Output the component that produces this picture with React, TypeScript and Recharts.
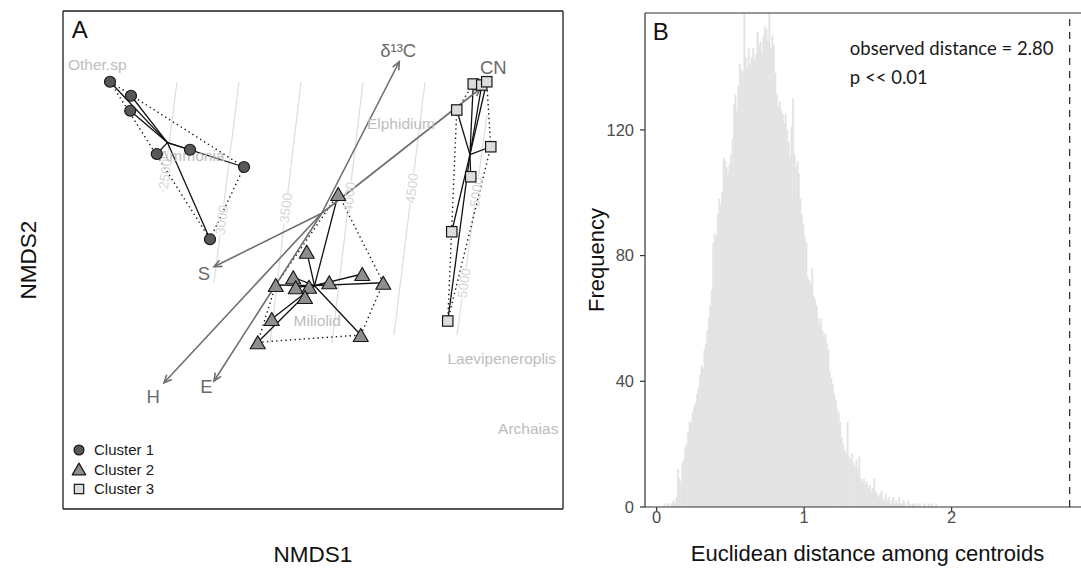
import React from "react";
import {
  ScatterChart,
  Scatter,
  ComposedChart,
  Bar,
  XAxis,
  YAxis,
  ReferenceLine,
  ReferenceDot,
  Legend,
} from "recharts";

const SANS = "'Liberation Sans', Arial, Helvetica, sans-serif";

type Pt = { x: number; y: number };

// ---------- Panel A: NMDS ordination ----------

// site scores per cluster
const cluster1: Pt[] = [
  { x: -0.847, y: 0.526 },
  { x: -0.763, y: 0.47 },
  { x: -0.766, y: 0.41 },
  { x: -0.66, y: 0.237 },
  { x: -0.527, y: 0.254 },
  { x: -0.311, y: 0.185 },
  { x: -0.447, y: -0.104 },
];
const cluster2: Pt[] = [
  { x: 0.066, y: 0.077 },
  { x: -0.06, y: -0.154 },
  { x: -0.114, y: -0.256 },
  { x: -0.184, y: -0.287 },
  { x: -0.104, y: -0.296 },
  { x: -0.051, y: -0.294 },
  { x: -0.067, y: -0.335 },
  { x: 0.03, y: -0.276 },
  { x: 0.162, y: -0.243 },
  { x: 0.246, y: -0.278 },
  { x: -0.2, y: -0.423 },
  { x: -0.256, y: -0.516 },
  { x: 0.156, y: -0.487 },
];
const cluster3: Pt[] = [
  { x: 0.606, y: 0.517 },
  { x: 0.64, y: 0.513 },
  { x: 0.66, y: 0.526 },
  { x: 0.54, y: 0.413 },
  { x: 0.676, y: 0.266 },
  { x: 0.596, y: 0.146 },
  { x: 0.52, y: -0.074 },
  { x: 0.504, y: -0.431 },
];

const clusterNames = ["Cluster 1", "Cluster 2", "Cluster 3"];
const clusterFills = ["#585858", "#8E8E8E", "#DCDCDC"];
const clusterShapes = ["circle", "triangle", "square"];

// fitted environmental vectors
const envNames = ["δ¹³C", "CN", "S", "H", "E"];
const envX = [0.31, 0.635, -0.431, -0.631, -0.431];
const envY = [0.606, 0.499, -0.214, -0.678, -0.671];
const envLabelX = [0.306, 0.686, -0.471, -0.674, -0.461];
const envLabelY = [0.653, 0.584, -0.24, -0.734, -0.691];

// species scores
const speciesNames = ["Other.sp", "Ammonia", "Elphidium", "Miliolid", "Laevipeneroplis", "Archaias"];
const speciesX = [-0.898, -0.52, 0.317, -0.018, 0.72, 0.826];
const speciesY = [0.597, 0.233, 0.36, -0.427, -0.582, -0.86];

// depth surface isolines
const contourLevels = [2500, 3000, 3500, 4000, 4500, 5000];
const contourTopX = [-0.579, -0.331, -0.083, 0.165, 0.413, 0.661];
const contourTopY = [0.525, 0.525, 0.525, 0.525, 0.525, 0.393];
const contourBottomX = [-0.635, -0.431, -0.207, 0.041, 0.289, 0.541];
const contourBottomY = [0.085, -0.279, -0.519, -0.519, -0.487, -0.487];
const contourLabelX = [-0.625, -0.4, -0.143, 0.111, 0.361, 0.619, 0.57];
const contourLabelY = [0.157, -0.027, 0.021, 0.065, 0.1, 0.085, -0.279];
const contourLabelLine = [0, 1, 2, 3, 4, 5, 5];

// ---------- Panel B: permutation histogram ----------

const binWidth = 0.01;
const counts = [
  0, 0, 0, 0, 0, 1, 0, 1, 1, 0,
  1, 2, 1, 3, 12, 9, 8, 14, 15, 19,
  20, 24, 27, 27, 30, 32, 33, 36, 38, 42,
  45, 44, 50, 52, 56, 60, 64, 69, 84, 87,
  86, 93, 98, 96, 100, 111, 110, 108, 106, 109,
  112, 117, 128, 131, 126, 134, 141, 139, 138, 157,
  143, 140, 146, 141, 143, 146, 142, 144, 151, 147,
  148, 144, 150, 153, 152, 148, 157, 146, 150, 147,
  138, 131, 127, 129, 126, 125, 122, 125, 120, 116,
  111, 121, 130, 112, 108, 110, 106, 98, 93, 90,
  86, 84, 73, 72, 71, 76, 67, 66, 64, 60,
  58, 60, 56, 54, 55, 52, 50, 43, 41, 39,
  36, 34, 31, 30, 27, 22, 20, 18, 17, 27,
  16, 15, 17, 14, 13, 15, 12, 16, 9, 8,
  9, 7, 8, 6, 7, 5, 6, 9, 5, 4,
  3, 4, 5, 3, 2, 4, 2, 3, 1, 2,
  3, 1, 2, 1, 3, 1, 1, 2, 1, 0,
  2, 1, 0, 1, 1, 0, 1, 0, 1, 0,
  0, 1, 0, 0, 1, 0, 1, 0, 0, 1,
];
const observedDistance = 2.8;
const pValueText = "p << 0.01";
const distTicks = [0, 1, 2];
const freqTicks = [0, 40, 80, 120];

const histData = counts.map((c, i) => ({ x: +((i + 0.5) * binWidth).toFixed(3), count: c }));

// ---------- helpers ----------

function centroid(pts: Pt[]): Pt {
  const n = pts.length;
  return {
    x: pts.reduce((s, p) => s + p.x, 0) / n,
    y: pts.reduce((s, p) => s + p.y, 0) / n,
  };
}

function convexHull(pts: Pt[]): Pt[] {
  const p = [...pts].sort((a, b) => a.x - b.x || a.y - b.y);
  const cross = (o: Pt, a: Pt, b: Pt) => (a.x - o.x) * (b.y - o.y) - (a.y - o.y) * (b.x - o.x);
  const lower: Pt[] = [];
  for (const q of p) {
    while (lower.length >= 2 && cross(lower[lower.length - 2], lower[lower.length - 1], q) <= 0) lower.pop();
    lower.push(q);
  }
  const upper: Pt[] = [];
  for (const q of [...p].reverse()) {
    while (upper.length >= 2 && cross(upper[upper.length - 2], upper[upper.length - 1], q) <= 0) upper.pop();
    upper.push(q);
  }
  upper.pop();
  lower.pop();
  return lower.concat(upper);
}

const clusters = [cluster1, cluster2, cluster3];

const spiderSegments = clusters.flatMap((pts) => {
  const c = centroid(pts);
  return pts.map((p) => [c, p]);
});

const hullSegments = clusters.flatMap((pts) => {
  const h = convexHull(pts);
  return h.map((p, i) => [p, h[(i + 1) % h.length]]);
});

// split each isoline around its labels
const GAP = 0.062;
const contours = contourLevels.map((level, k) => {
  const bx = contourBottomX[k];
  const by = contourBottomY[k];
  const dx = contourTopX[k] - bx;
  const dy = contourTopY[k] - by;
  const len2 = dx * dx + dy * dy;
  const len = Math.sqrt(len2);
  const angle = (Math.atan2(-dy, dx) * 180) / Math.PI;
  const ts = contourLabelX
    .map((lx, j) => ({ lx, ly: contourLabelY[j], line: contourLabelLine[j] }))
    .filter((l) => l.line === k)
    .map((l) => ((l.lx - bx) * dx + (l.ly - by) * dy) / len2)
    .sort((a, b) => a - b);
  const segs: number[][] = [];
  let t0 = 0;
  ts.forEach((t) => {
    const t1 = t - GAP / len;
    if (t1 > t0) segs.push([t0, t1]);
    t0 = t + GAP / len;
  });
  if (t0 < 1) segs.push([t0, 1]);
  return {
    segs: segs.map(([a, b]) => [
      { x: bx + dx * a, y: by + dy * a },
      { x: bx + dx * b, y: by + dy * b },
    ]),
    labels: ts.map((t) => ({ x: bx + dx * t, y: by + dy * t, text: String(level), angle })),
  };
});
const contourLabels = contours.flatMap((c) => c.labels);

const speciesData = speciesNames.map((text, i) => ({ x: speciesX[i], y: speciesY[i], text }));
const envLabelData = envNames.map((text, i) => ({ x: envLabelX[i], y: envLabelY[i], text }));

// ---------- shapes ----------

function Marker({ kind, cx, cy, fill, s = 1 }: { kind: string; cx: number; cy: number; fill: string; s?: number }) {
  const stroke = "#161616";
  if (kind === "circle") {
    return <circle cx={cx} cy={cy} r={5.5 * s} fill={fill} stroke={stroke} strokeWidth={1.2} />;
  }
  if (kind === "triangle") {
    const w = 7.5 * s;
    const h = 6.5 * s;
    return (
      <path
        d={`M${cx},${cy - h}L${cx + w},${cy + h}L${cx - w},${cy + h}Z`}
        fill={fill}
        stroke={stroke}
        strokeWidth={1.2}
        strokeLinejoin="round"
      />
    );
  }
  const a = 5.2 * s;
  return <rect x={cx - a} y={cy - a} width={2 * a} height={2 * a} fill={fill} stroke={stroke} strokeWidth={1.2} />;
}

const arrowShape = (p: any) => {
  const { x1, y1, x2, y2 } = p;
  const a = Math.atan2(y2 - y1, x2 - x1);
  const L = 8.5;
  const w = 0.42;
  return (
    <g>
      <line x1={x1} y1={y1} x2={x2} y2={y2} stroke="#6E6E6E" strokeWidth={1.6} />
      <path
        d={`M${x2 - L * Math.cos(a - w)},${y2 - L * Math.sin(a - w)}L${x2},${y2}L${x2 - L * Math.cos(a + w)},${y2 - L * Math.sin(a + w)}`}
        fill="none"
        stroke="#6E6E6E"
        strokeWidth={1.6}
      />
    </g>
  );
};

const textShape = (size: number, color: string) => (p: any) => (
  <text
    x={p.cx}
    y={p.cy}
    textAnchor="middle"
    dominantBaseline="central"
    fontFamily={SANS}
    fontSize={size}
    fill={color}
  >
    {p.payload.text}
  </text>
);

const contourTextShape = (p: any) => (
  <text
    x={p.cx}
    y={p.cy}
    transform={`rotate(${p.payload.angle} ${p.cx} ${p.cy})`}
    textAnchor="middle"
    dominantBaseline="central"
    fontFamily={SANS}
    fontSize={13.5}
    fill="#D6D6D6"
  >
    {p.payload.text}
  </text>
);

function ClusterLegend() {
  return (
    <div style={{ fontFamily: SANS, fontSize: 15, color: "#1a1a1a" }}>
      {clusterNames.map((name, i) => (
        <div key={name} style={{ display: "flex", alignItems: "center", height: 19.6 }}>
          <svg width={14} height={14} style={{ overflow: "visible" }}>
            <Marker kind={clusterShapes[i]} cx={7} cy={7} fill={clusterFills[i]} s={0.9} />
          </svg>
          <span style={{ marginLeft: 8, lineHeight: "19.6px" }}>{name}</span>
        </div>
      ))}
    </div>
  );
}

const boxLine = { stroke: "#1e1e1e", strokeWidth: 1.3 };

function NmdsPanel() {
  const xDom: [number, number] = [-1.035, 0.965];
  const yDom: [number, number] = [-1.183, 0.809];
  return (
    <ScatterChart width={580} height={568} margin={{ top: 10, left: 62, right: 16, bottom: 58 }}>
      <XAxis
        dataKey="x"
        type="number"
        domain={xDom}
        allowDataOverflow
        height={1}
        tick={false}
        tickLine={false}
        axisLine={boxLine}
        label={(p: any) => (
          <text
            x={p.viewBox.x + p.viewBox.width / 2}
            y={509 + 52.5}
            textAnchor="middle"
            fontFamily={SANS}
            fontSize={22.5}
            fill="#111"
          >
            NMDS1
          </text>
        )}
      />
      <XAxis
        xAxisId="top"
        orientation="top"
        type="number"
        domain={xDom}
        allowDataOverflow
        height={1}
        tick={false}
        tickLine={false}
        axisLine={boxLine}
        label={() => (
          <text x={71.7} y={38.3} fontFamily={SANS} fontSize={24} fill="#111">
            A
          </text>
        )}
      />
      <YAxis
        dataKey="y"
        type="number"
        domain={yDom}
        allowDataOverflow
        width={1}
        tick={false}
        tickLine={false}
        axisLine={boxLine}
        label={() => {
          const cx = 28;
          const cy = 260;
          return (
            <text
              x={cx}
              y={cy}
              transform={`rotate(-90 ${cx} ${cy})`}
              textAnchor="middle"
              dominantBaseline="central"
              fontFamily={SANS}
              fontSize={22.5}
              fill="#111"
            >
              NMDS2
            </text>
          );
        }}
      />
      <YAxis
        yAxisId="right"
        orientation="right"
        type="number"
        domain={yDom}
        allowDataOverflow
        width={1}
        tick={false}
        tickLine={false}
        axisLine={boxLine}
      />

      {contours.flatMap((c, k) =>
        c.segs.map((s, j) => (
          <ReferenceLine key={`c${k}-${j}`} segment={s} stroke="#DEDEDE" strokeWidth={1.2} />
        ))
      )}
      <Scatter data={contourLabels} shape={contourTextShape} isAnimationActive={false} />
      <Scatter data={speciesData} shape={textShape(15.5, "#BDBDBD")} isAnimationActive={false} />

      {hullSegments.map((s, i) => (
        <ReferenceLine
          key={`h${i}`}
          segment={s}
          stroke="#1a1a1a"
          strokeWidth={1.4}
          strokeDasharray="1.4 3.2"
        />
      ))}
      {spiderSegments.map((s, i) => (
        <ReferenceLine key={`s${i}`} segment={s} stroke="#111" strokeWidth={1.3} />
      ))}
      {envNames.map((name, i) => (
        <ReferenceLine
          key={`e${name}`}
          segment={[
            { x: 0, y: 0 },
            { x: envX[i], y: envY[i] },
          ]}
          shape={arrowShape}
        />
      ))}

      {clusters.map((pts, i) => (
        <Scatter
          key={clusterNames[i]}
          name={clusterNames[i]}
          data={pts}
          isAnimationActive={false}
          shape={(p: any) => <Marker kind={clusterShapes[i]} cx={p.cx} cy={p.cy} fill={clusterFills[i]} />}
        />
      ))}
      <Scatter data={envLabelData} shape={textShape(18.5, "#6B6B6B")} isAnimationActive={false} />

      <Legend
        content={<ClusterLegend />}
        layout="vertical"
        align="center"
        verticalAlign="middle"
        wrapperStyle={{ left: 72, top: 440, width: 120, height: 60 }}
      />
    </ScatterChart>
  );
}

const axisDark = { stroke: "#333", strokeWidth: 1.2 };
const tickText = { fill: "#4d4d4d", fontSize: 16.5, fontFamily: SANS };
const NOTE_FONT = "Lato, 'Noto Sans', sans-serif";

function HistPanel() {
  const xDom: [number, number] = [-0.079, 2.938];
  return (
    <ComposedChart
      width={540}
      height={568}
      data={histData}
      margin={{ top: 12, right: 10, left: 0, bottom: 0 }}
      barCategoryGap={0}
      barGap={0}
    >
      <XAxis
        dataKey="x"
        type="number"
        domain={xDom}
        allowDataOverflow
        ticks={distTicks}
        height={61}
        tickSize={4.5}
        tickMargin={0}
        tick={tickText}
        tickLine={axisDark}
        axisLine={axisDark}
        label={() => (
          <text x={307.5} y={561} textAnchor="middle" fontFamily={SANS} fontSize={22} fill="#111">
            Euclidean distance among centroids
          </text>
        )}
      />
      <XAxis
        xAxisId="top"
        orientation="top"
        type="number"
        domain={xDom}
        allowDataOverflow
        height={1}
        tick={false}
        tickLine={false}
        axisLine={axisDark}
        label={() => (
          <text x={92.7} y={40} fontFamily={SANS} fontSize={24} fill="#111">
            B
          </text>
        )}
      />
      <YAxis
        type="number"
        domain={[0, 157.2]}
        allowDataOverflow
        ticks={freqTicks}
        width={85}
        tickSize={5}
        tickMargin={6}
        tick={tickText}
        tickLine={axisDark}
        axisLine={axisDark}
        label={() => {
          const cx = 36;
          const cy = 260;
          return (
            <text
              x={cx}
              y={cy}
              transform={`rotate(-90 ${cx} ${cy})`}
              textAnchor="middle"
              dominantBaseline="central"
              fontFamily={SANS}
              fontSize={22}
              fill="#111"
            >
              Frequency
            </text>
          );
        }}
      />
      <Bar
        dataKey="count"
        fill="#E3E3E3"
        stroke="#E3E3E3"
        strokeWidth={0.6}
        barSize={1.7}
        isAnimationActive={false}
      />
      <ReferenceLine x={observedDistance} stroke="#333" strokeWidth={1.3} strokeDasharray="7 6" />
      <ReferenceDot
        x={1.31}
        y={146}
        r={0}
        shape={(p: any) => (
          <text x={p.cx} y={p.cy} dominantBaseline="central" fontFamily={NOTE_FONT} fontSize={18.5} fill="#1a1a1a">
            {`observed distance = ${observedDistance.toFixed(2)}`}
          </text>
        )}
      />
      <ReferenceDot
        x={1.31}
        y={136.8}
        r={0}
        shape={(p: any) => (
          <text x={p.cx} y={p.cy} dominantBaseline="central" fontFamily={NOTE_FONT} fontSize={18.5} fill="#1a1a1a">
            {pValueText}
          </text>
        )}
      />
    </ComposedChart>
  );
}

export default function App() {
  return (
    <div
      style={{
        position: "absolute",
        left: 0,
        top: 0,
        width: 1081,
        height: 568,
        overflow: "hidden",
        background: "#fff",
      }}
    >
      <div style={{ position: "absolute", left: 0, top: 0 }}>
        <NmdsPanel />
      </div>
      <div style={{ position: "absolute", left: 560, top: 0 }}>
        <HistPanel />
      </div>
    </div>
  );
}
